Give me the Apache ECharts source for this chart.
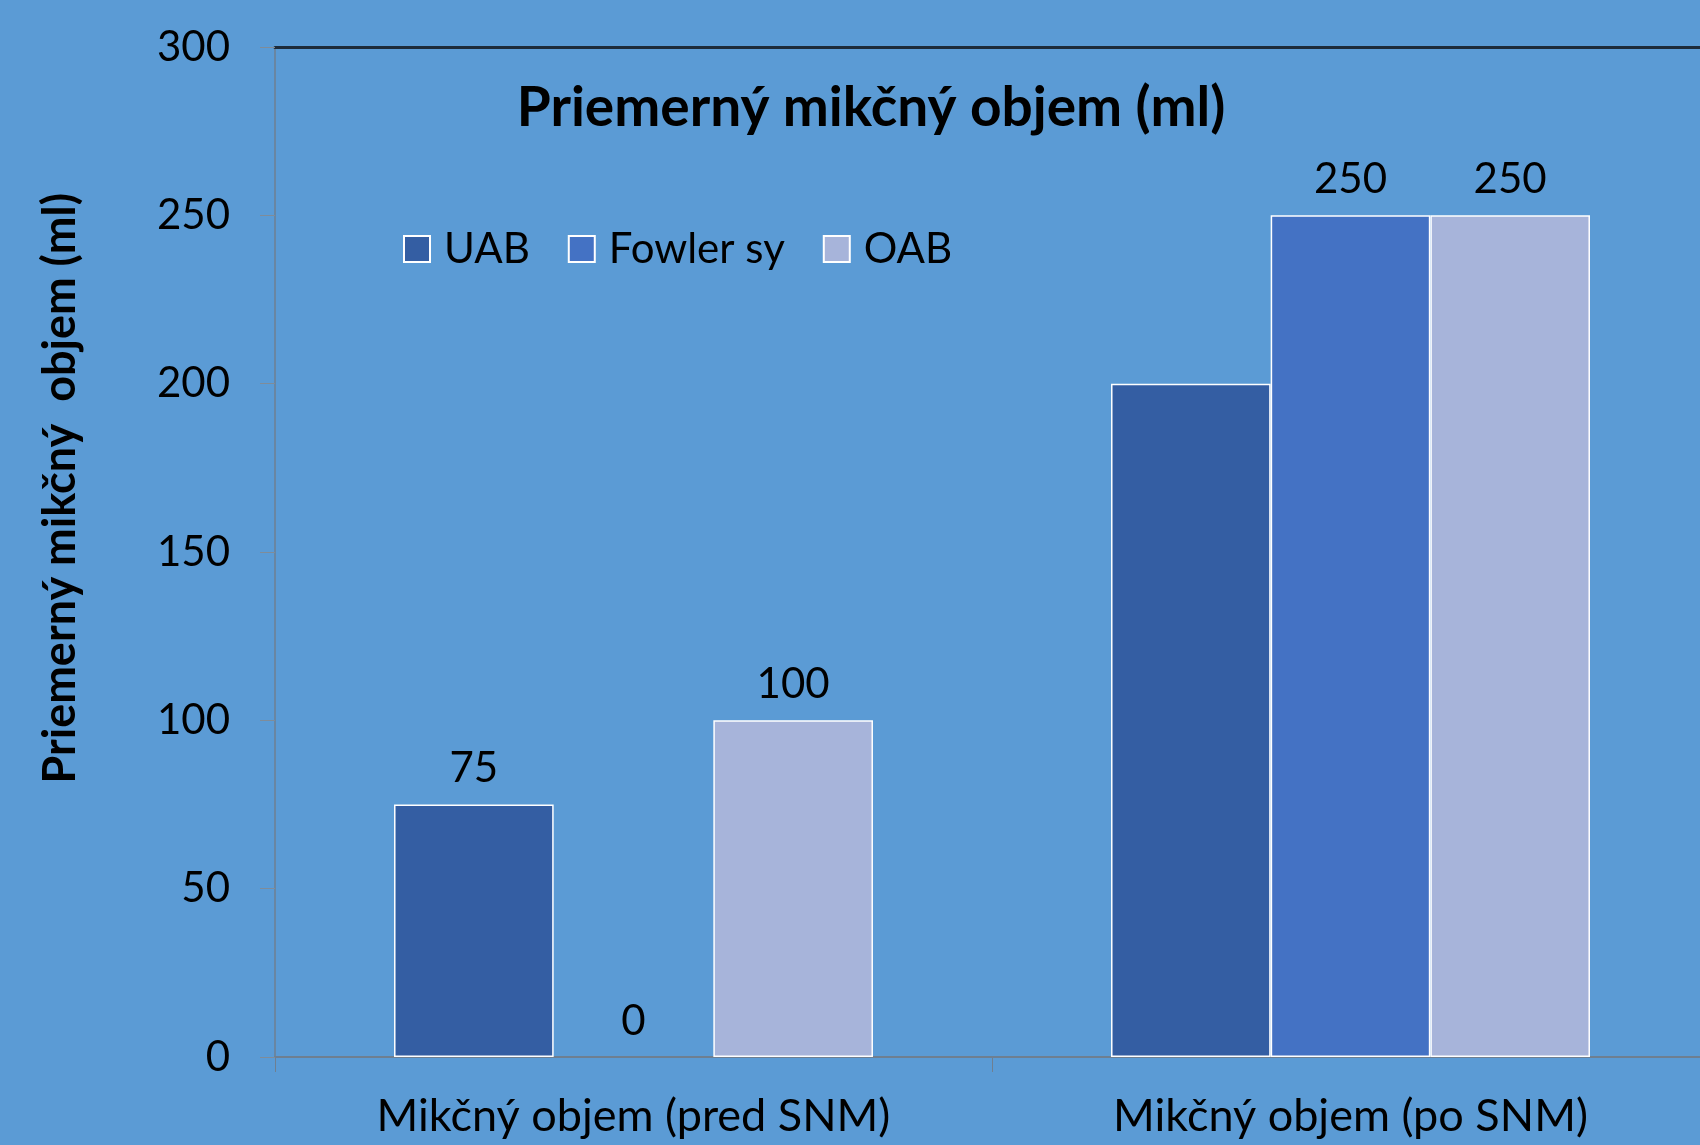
<!DOCTYPE html>
<html>
<head>
<meta charset="utf-8">
<script src="https://cdn.jsdelivr.net/npm/echarts@6/dist/echarts.min.js"></script>
<style>
html,body{margin:0;padding:0;background:#5B9BD5;overflow:hidden;width:1700px;height:1145px;}
#chart{width:1709px;height:1145px;}
</style>
</head>
<body>
<div id="chart"></div>
<script>
const categories = ['Mikčný objem (pred SNM)', 'Mikčný objem (po SNM)'];
const seriesNames = ['UAB', 'Fowler sy', 'OAB'];
const uab = [75, 200];
const fowler = [0, 250];
const oab = [100, 250];
// which value labels are printed in the reference (the 200 bar has none)
const uabLabelShown = [true, false];
const fowlerLabelShown = [true, true];
const oabLabelShown = [true, true];
const yTicks = [0, 50, 100, 150, 200, 250, 300];
const titleText = 'Priemerný mikčný objem (ml)';
const yAxisTitle = 'Priemerný mikčný  objem (ml)';

const colors = ['#345EA3', '#4472C4', '#A7B4DA'];
const FONT = 'Lato, "Open Sans", sans-serif';

const chart = echarts.init(document.getElementById('chart'), null, {renderer: 'canvas'});

function mkData(arr, shown) {
  return arr.map((v, j) => {
    const item = {value: v};
    if (v === 0) item.itemStyle = {borderWidth: 0};
    if (!shown[j]) item.label = {show: false};
    return item;
  });
}
const values = [uab, fowler, oab];
const shownLists = [uabLabelShown, fowlerLabelShown, oabLabelShown];

chart.setOption({
  backgroundColor: '#5B9BD5',
  animation: false,
  title: {
    text: titleText,
    left: 866,
    textAlign: 'center',
    top: 76,
    textStyle: {fontFamily: FONT, fontSize: 55, fontWeight: 'bold', color: '#000'}
  },
  legend: {
    left: 398,
    top: 223,
    itemWidth: 26,
    itemHeight: 26,
    itemGap: 38,
    icon: 'rect',
    data: seriesNames,
    textStyle: {fontFamily: FONT, fontSize: 42, lineHeight: 30, color: '#000', padding: [0, 0, 0, 9]}
  },
  grid: {left: 275, right: 0, top: 47, bottom: 88, containLabel: false},
  xAxis: [{
    type: 'category',
    data: categories,
    position: 'bottom',
    axisLine: {show: true, lineStyle: {color: '#6E7F91', width: 2}},
    axisTick: {show: true, length: 15, lineStyle: {color: '#6E7F91', width: 1}},
    axisLabel: {fontFamily: FONT, fontSize: 45, color: '#000', margin: 37}
  }, {
    type: 'category',
    data: categories,
    position: 'top',
    axisLine: {show: true, lineStyle: {color: '#1D2B3A', width: 3}},
    axisTick: {show: false},
    axisLabel: {show: false}
  }],
  yAxis: {
    type: 'value',
    min: yTicks[0],
    max: yTicks[yTicks.length - 1],
    interval: yTicks[1] - yTicks[0],
    axisLine: {show: true, lineStyle: {color: '#6E7F91', width: 1.5}},
    axisTick: {show: true, length: 15, lineStyle: {color: '#7F8C99', width: 1}},
    splitLine: {show: false},
    axisLabel: {fontFamily: FONT, fontSize: 42, color: '#000', margin: 45}
  },
  graphic: [{
    type: 'text',
    left: 38,
    top: 193,
    rotation: Math.PI / 2,
    style: {
      text: yAxisTitle,
      font: 'bold 45px ' + FONT,
      fill: '#000'
    }
  }],
  series: seriesNames.map((name, i) => ({
    name: name,
    type: 'bar',
    xAxisIndex: 0,
    data: mkData(values[i], shownLists[i]),
    barGap: '0%',
    barCategoryGap: '33.2%',
    itemStyle: {color: colors[i], borderColor: '#FFFFFF', borderWidth: 1.5},
    label: {
      show: true,
      position: 'top',
      distance: 15,
      fontFamily: FONT,
      fontSize: 42,
      color: '#000'
    }
  }))
});
</script>
</body>
</html>
